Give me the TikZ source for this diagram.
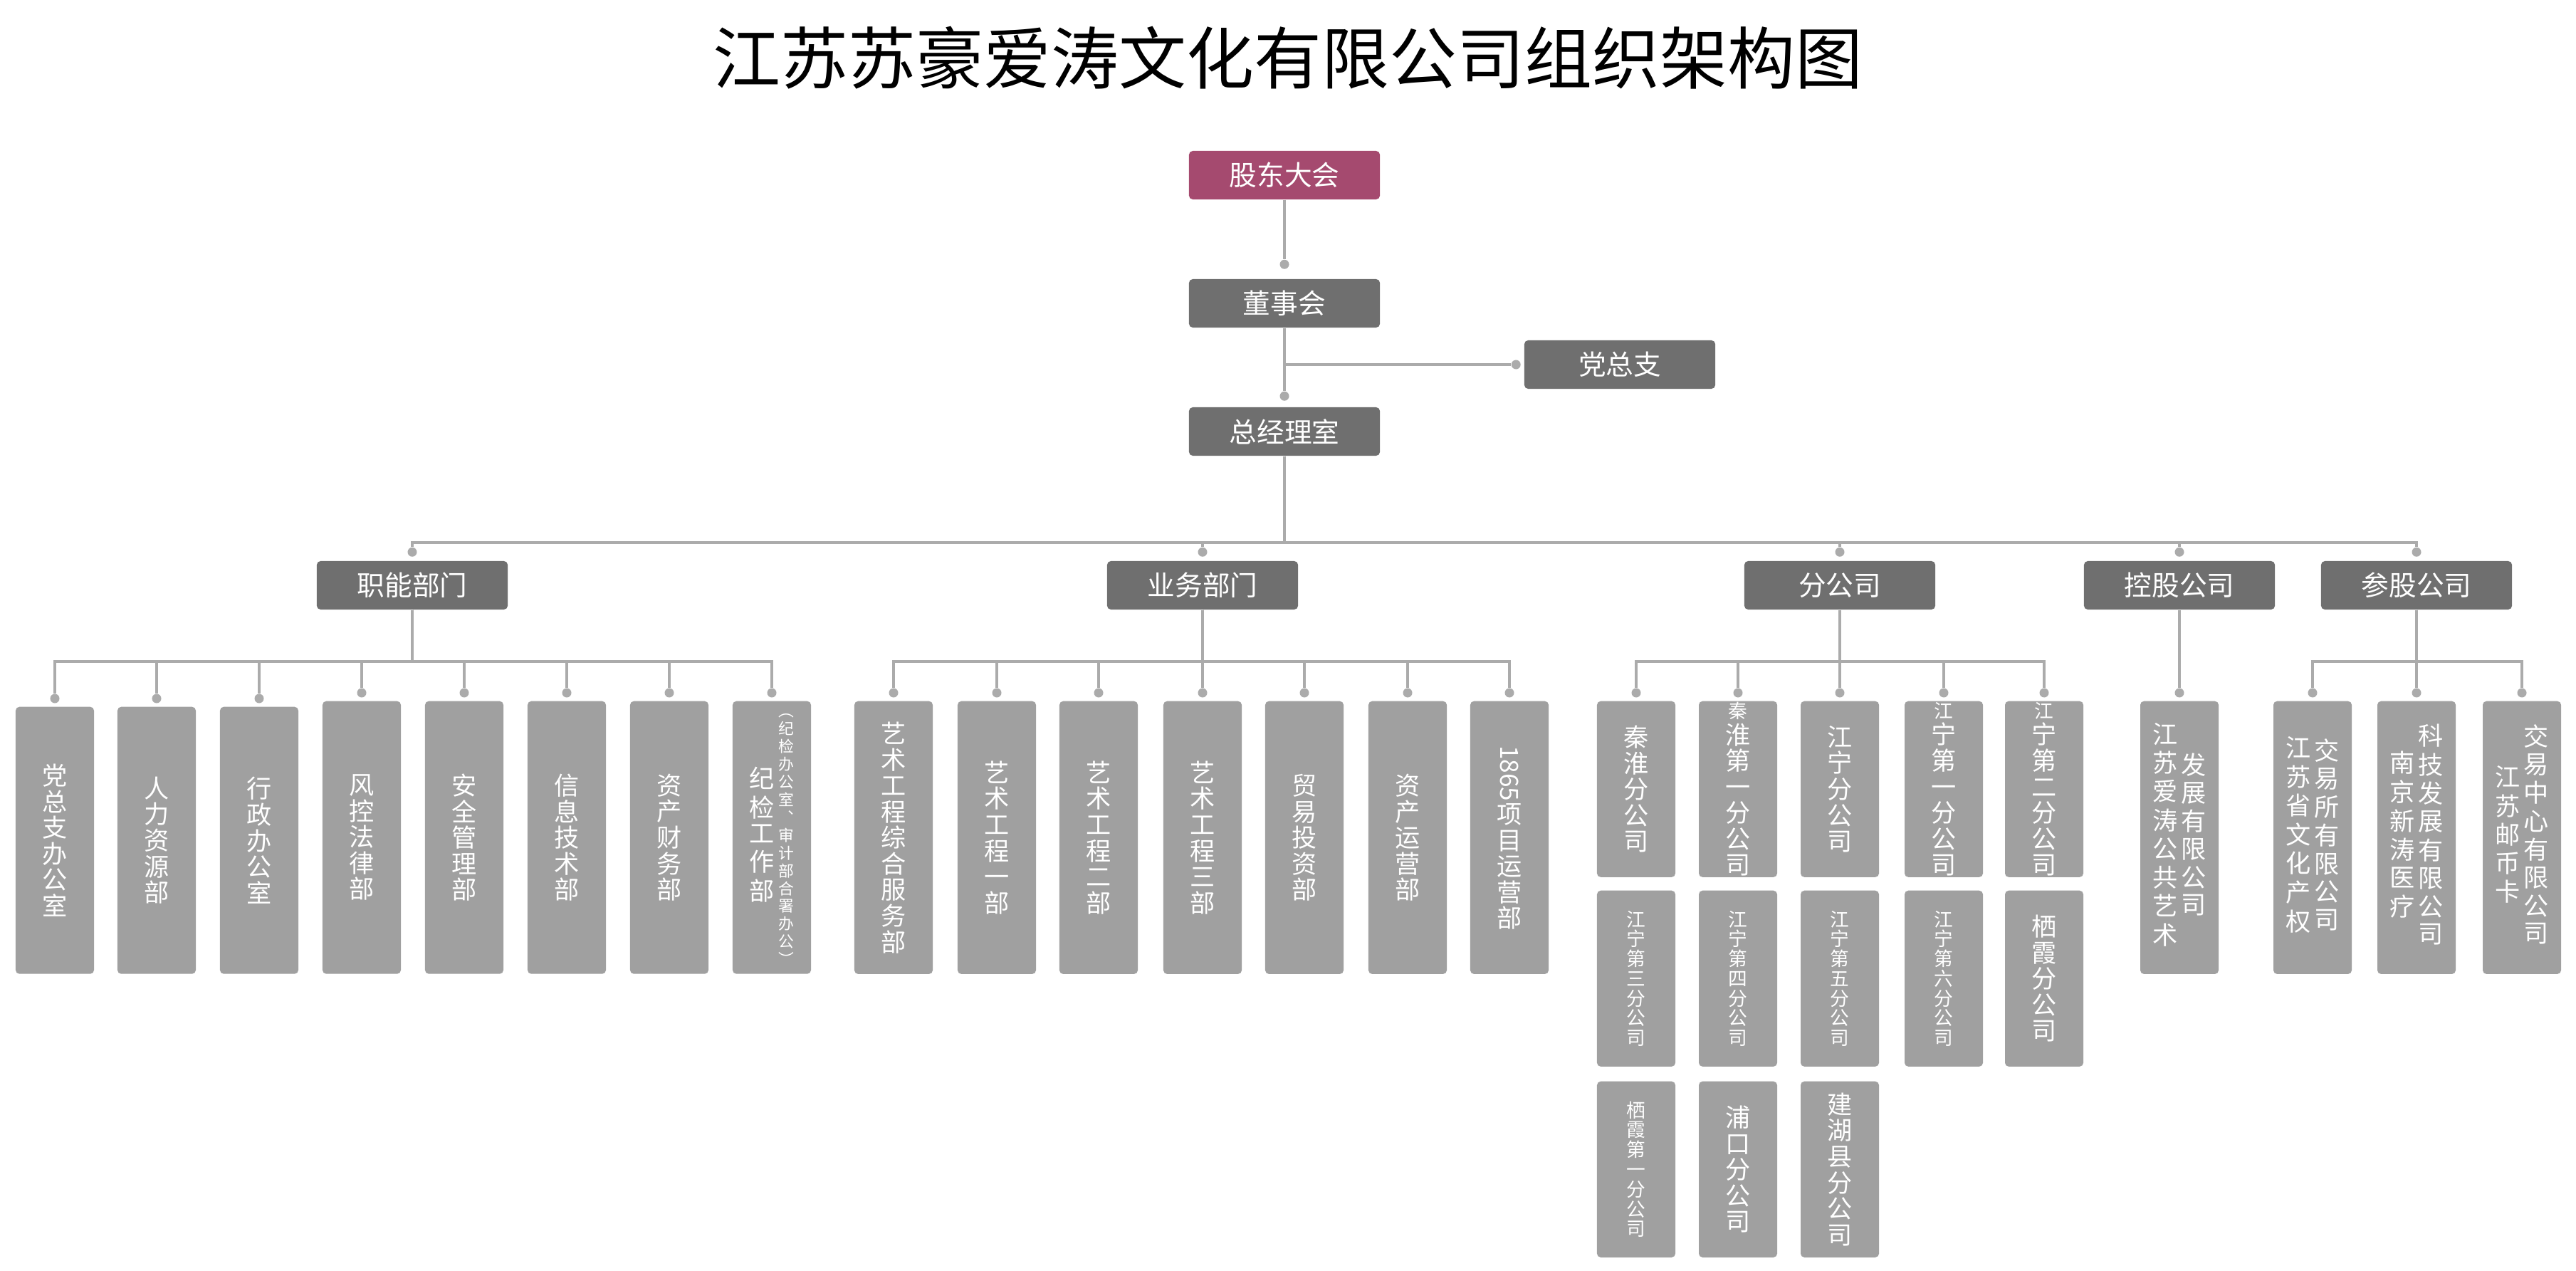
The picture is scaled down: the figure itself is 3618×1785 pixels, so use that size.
\documentclass[tikz,border=0pt]{standalone}
\usepackage{fontspec}
\setmainfont{Noto Sans CJK SC}
\definecolor{gdpink}{HTML}{A54A6F}
\definecolor{boxdark}{HTML}{6F6F6F}
\definecolor{boxlight}{HTML}{A0A0A0}
\definecolor{linegray}{HTML}{ABABAB}
\newcommand\bigf{\fontsize{10}{10.4}\selectfont}
\newcommand\smallf{\fontsize{7.6}{7.9}\selectfont}
\newcommand\tinyf{\fontsize{6.2}{6.4}\selectfont}
\newcommand\vcol[1]{\begin{tabular}[c]{@{}c@{}}#1\end{tabular}}
\newcommand\twocol[2]{\begin{tabular}{@{}c@{\hspace{1.5pt}}c@{}}\vcol{#1}&\vcol{#2}\end{tabular}}
\tikzset{
  conn/.style={draw=linegray, line width=1.1pt},
  dot/.style={circle, fill=linegray, inner sep=0pt, minimum size=0.13cm},
  head/.style={rectangle, rounded corners=1.5pt, fill=boxdark, text=white,
    minimum width=2.68cm, minimum height=0.68cm, inner sep=0pt, font=\fontsize{11}{11}\selectfont},
  leaf/.style={rectangle, rounded corners=1.5pt, fill=boxlight, text=white, anchor=north,
    minimum width=1.1cm, minimum height=3.83cm, inner sep=0pt, align=center, font=\bigf},
  sleaf/.style={leaf, minimum height=2.47cm},
}
\begin{document}
\begin{tikzpicture}[x=0.01cm, y=-0.01cm]
    \useasboundingbox (0,0) rectangle (3618,1785);

    % Titel
    \node[font=\fontsize{27}{27}\selectfont] (title) at (1809,81) {江苏苏豪爱涛文化有限公司组织架构图};

    % Spitze
    \node[head, fill=gdpink] (gd) at (1804,246) {股东大会};
    \node[head] (dsh) at (1804,426) {董事会};
    \node[head] (dzz) at (2275,512) {党总支};
    \node[head] (zjl) at (1804,606) {总经理室};
    \node[dot] (dsh-d) at ([yshift=0.2cm]dsh.north) {};
    \node[dot] (zjl-d) at ([yshift=0.15cm]zjl.north) {};
    \node[dot] (dzz-d) at ([xshift=-0.11cm]dzz.west) {};
    \coordinate (br) at (1804,512);
    \draw[conn] (gd.south) -- (dsh-d);
    \draw[conn] (dsh.south) -- (zjl-d);
    \draw[conn] (br) -- (dzz-d);

    % Zweite Ebene
    \foreach \n/\x/\t in {zn/579/职能部门, yw/1689/业务部门, fgs/2584/分公司, kg/3061/控股公司, cg/3394/参股公司} {
        \node[head] (\n) at (\x,822) {\t};
        \node[dot] (\n-d) at ([yshift=0.12cm]\n.north) {};
        \draw[conn] (zjl.south) -- ++(0,121) -| (\n-d);
    }

    % Funktionsabteilungen
    \foreach \n/\x/\y/\t in {
        zn1/77/992/{党\\总\\支\\办\\公\\室},
        zn2/220/992/{人\\力\\资\\源\\部},
        zn3/364/992/{行\\政\\办\\公\\室},
        zn4/508/984/{风\\控\\法\\律\\部},
        zn5/652/984/{安\\全\\管\\理\\部},
        zn6/796/984/{信\\息\\技\\术\\部},
        zn7/940/984/{资\\产\\财\\务\\部},
        zn8/1084/984/{\twocol{纪\\检\\工\\作\\部}{\tinyf\vcol{︵\\纪\\检\\办\\公\\室\\︑\\审\\计\\部\\合\\署\\办\\公\\︶}}}} {
        \node[leaf, minimum height={(1367-\y)*0.01cm}] (\n) at (\x,\y) {\t};
        \node[dot] (\n-d) at ([yshift=0.11cm]\n.north) {};
        \draw[conn] (zn.south) -- ++(0,72) -| (\n-d);
    }

    % Geschaeftsabteilungen
    \foreach \n/\x/\t in {
        yw1/1255/{艺\\术\\工\\程\\综\\合\\服\\务\\部},
        yw2/1400/{艺\\术\\工\\程\\一\\部},
        yw3/1543/{艺\\术\\工\\程\\二\\部},
        yw4/1689/{艺\\术\\工\\程\\三\\部},
        yw5/1832/{贸\\易\\投\\资\\部},
        yw6/1977/{资\\产\\运\\营\\部},
        yw7/2120/{\rotatebox{-90}{1865}\\项\\目\\运\\营\\部}} {
        \node[leaf] (\n) at (\x,984) {\t};
        \node[dot] (\n-d) at ([yshift=0.11cm]\n.north) {};
        \draw[conn] (yw.south) -- ++(0,72) -| (\n-d);
    }

    % Filialen, erste Reihe
    \foreach \n/\x/\t in {
        fg1/2298/{秦\\淮\\分\\公\\司},
        fg2/2441/{\smallf 秦\\淮\\第\\一\\分\\公\\司},
        fg3/2584/{江\\宁\\分\\公\\司},
        fg4/2730/{\smallf 江\\宁\\第\\一\\分\\公\\司},
        fg5/2871/{\smallf 江\\宁\\第\\二\\分\\公\\司}} {
        \node[sleaf] (\n) at (\x,984) {\t};
        \node[dot] (\n-d) at ([yshift=0.11cm]\n.north) {};
        \draw[conn] (fgs.south) -- ++(0,72) -| (\n-d);
    }
    % weitere Reihen
    \node[sleaf, font=\smallf] (fg6) at (2298,1250) {江\\宁\\第\\三\\分\\公\\司};
    \node[sleaf, font=\smallf] (fg7) at (2441,1250) {江\\宁\\第\\四\\分\\公\\司};
    \node[sleaf, font=\smallf] (fg8) at (2584,1250) {江\\宁\\第\\五\\分\\公\\司};
    \node[sleaf, font=\smallf] (fg9) at (2730,1250) {江\\宁\\第\\六\\分\\公\\司};
    \node[sleaf] (fg10) at (2871,1250) {栖\\霞\\分\\公\\司};
    \node[sleaf, font=\smallf] (fg11) at (2298,1518) {栖\\霞\\第\\一\\分\\公\\司};
    \node[sleaf] (fg12) at (2441,1518) {浦\\口\\分\\公\\司};
    \node[sleaf] (fg13) at (2584,1518) {建\\湖\\县\\分\\公\\司};

    % Beteiligungen
    \node[leaf] (kg1) at (3061,984) {\twocol{江\\苏\\爱\\涛\\公\\共\\艺\\术}{发\\展\\有\\限\\公\\司}};
    \node[dot] (kg1-d) at ([yshift=0.11cm]kg1.north) {};
    \draw[conn] (kg.south) -- (kg1-d);
    \foreach \n/\x/\t in {
        cg1/3248/{\twocol{江\\苏\\省\\文\\化\\产\\权}{交\\易\\所\\有\\限\\公\\司}},
        cg2/3394/{\twocol{南\\京\\新\\涛\\医\\疗}{科\\技\\发\\展\\有\\限\\公\\司}},
        cg3/3542/{\twocol{江\\苏\\邮\\币\\卡}{交\\易\\中\\心\\有\\限\\公\\司}}} {
        \node[leaf] (\n) at (\x,984) {\t};
        \node[dot] (\n-d) at ([yshift=0.11cm]\n.north) {};
        \draw[conn] (cg.south) -- ++(0,72) -| (\n-d);
    }
\end{tikzpicture}
\end{document}
